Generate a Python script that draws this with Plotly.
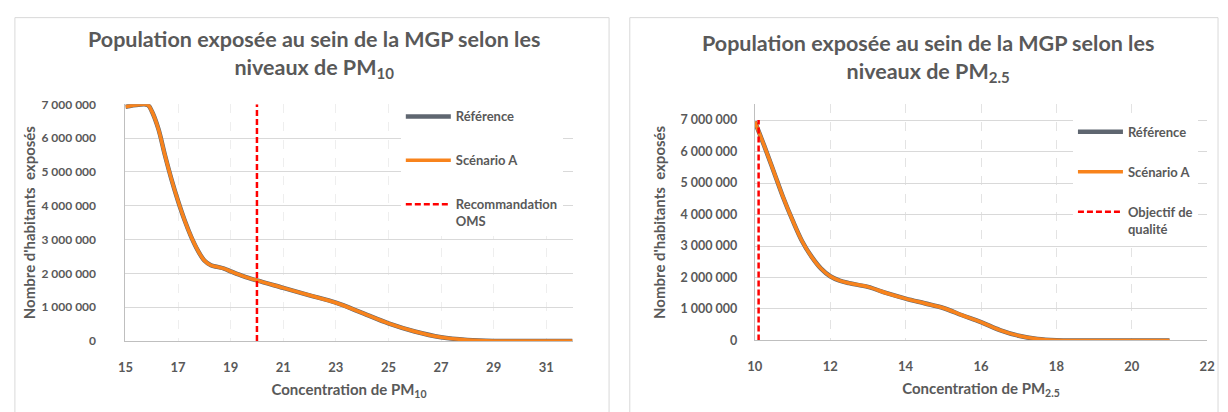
import plotly.graph_objects as go

# PM10 exposure curve (µg/m³ -> inhabitants exposed)
pm10_conc = [15, 15.5, 15.85, 16, 16.25, 16.5, 16.75, 17, 17.25, 17.5, 17.75, 18,
             18.25, 18.5, 18.75, 19, 19.5, 20, 21, 22, 23, 24, 25, 26, 27, 28,
             29, 30, 31, 32]
pm10_reference = [6930000, 6990000, 6980000, 6800000, 6280000, 5500000, 4780000,
                  4140000, 3570000, 3080000, 2680000, 2380000, 2240000, 2190000,
                  2140000, 2060000, 1910000, 1790000, 1570000, 1350000, 1130000,
                  830000, 520000, 280000, 110000, 30000, 0, 0, 0, 0]
pm10_scenario_a = list(pm10_reference)
pm10_oms = 20

# PM2.5 exposure curve
pm25_conc = [10, 10.25, 10.5, 10.75, 11, 11.25, 11.5, 11.75, 12, 12.25, 12.5, 13,
             13.5, 14, 14.5, 15, 15.5, 16, 16.5, 17, 17.5, 18, 18.5, 19, 20, 21]
pm25_reference = [6950000, 6180000, 5370000, 4550000, 3820000, 3160000, 2670000,
                  2290000, 2040000, 1900000, 1820000, 1700000, 1500000, 1330000,
                  1180000, 1030000, 800000, 580000, 330000, 150000, 50000, 10000,
                  0, 0, 0, 0]
pm25_scenario_a = list(pm25_reference)
pm25_objectif = 10.1

W, H = 1228, 412
GREY_LINE = "#5F6670"
ORANGE = "#F8831C"
RED = "#FF0000"
TEXT = "#595959"
FONT = "Lato"


def fx(x):
    return x / W


def fy(y):
    return 1 - y / H


fig = go.Figure()

# left chart traces
fig.add_trace(go.Scatter(x=pm10_conc, y=pm10_reference, name="Référence",
                         mode="lines", line=dict(color=GREY_LINE, width=4.5, shape="spline"),
                         legendgroup="a1", xaxis="x", yaxis="y"))
fig.add_trace(go.Scatter(x=pm10_conc, y=pm10_scenario_a, name="Scénario A",
                         mode="lines", line=dict(color=ORANGE, width=3.5, shape="spline"),
                         legendgroup="a2", xaxis="x", yaxis="y"))
fig.add_trace(go.Scatter(x=[pm10_oms, pm10_oms], y=[0, 7000000], name="Recommandation<br>OMS",
                         mode="lines", line=dict(color=RED, width=2.5, dash="6px,3px"),
                         legendgroup="a3", xaxis="x", yaxis="y"))

# right chart traces
fig.add_trace(go.Scatter(x=pm25_conc, y=pm25_reference, name="Référence",
                         mode="lines", line=dict(color=GREY_LINE, width=4.5, shape="spline"),
                         legendgroup="b1", legend="legend2", xaxis="x2", yaxis="y2"))
fig.add_trace(go.Scatter(x=pm25_conc, y=pm25_scenario_a, name="Scénario A",
                         mode="lines", line=dict(color=ORANGE, width=3.5, shape="spline"),
                         legendgroup="b2", legend="legend2", xaxis="x2", yaxis="y2"))
fig.add_trace(go.Scatter(x=[pm25_objectif, pm25_objectif], y=[0, 7000000],
                         name="Objectif de<br>qualité",
                         mode="lines", line=dict(color=RED, width=2.5, dash="6px,3px"),
                         legendgroup="b3", legend="legend2", xaxis="x2", yaxis="y2"))


def tick_font(size):
    return dict(family=FONT, size=size, color=TEXT, weight="bold")


axis_title_font = dict(family=FONT, size=15, color=TEXT, weight="bold")

common_x = dict(showline=True, linecolor="#BFBFBF", linewidth=1, ticks="",
                zeroline=False, tickfont=tick_font(13), griddash="dash", gridwidth=1)
common_y = dict(showline=True, linecolor="#BFBFBF", linewidth=1, ticks="",
                zeroline=False, gridcolor="#D9D9D9", gridwidth=1,
                tickformat=",d", dtick=1000000, tick0=0)

legend_common = dict(bgcolor="white", font=dict(family=FONT, size=13, color=TEXT, weight="bold"),
                     traceorder="grouped", valign="top", xanchor="left", yanchor="top",
                     itemwidth=45)

fig.update_layout(
    width=W, height=H,
    margin=dict(l=0, r=0, t=0, b=0),
    paper_bgcolor="white", plot_bgcolor="white",
    separators=", ",
    font=dict(family=FONT, color=TEXT),
    xaxis=dict(common_x, domain=[fx(119), fx(572)], range=[15, 32], tick0=15, dtick=2,
               gridcolor="#EEEEEE", ticklabelstandoff=14,
               title=dict(text="Concentration de PM<sub>10</sub>", font=axis_title_font,
                          standoff=10)),
    yaxis=dict(common_y, domain=[fy(345.5), fy(100)], range=[0, 7000000],
               ticklabelstandoff=26, tickfont=tick_font(12),
               title=dict(text="Nombre d'habitants  exposés", font=axis_title_font,
                          standoff=2)),
    xaxis2=dict(common_x, domain=[fx(756.7), fx(1215)], range=[10, 22], tick0=10, dtick=2,
                gridcolor="#E3E3E3", ticklabelstandoff=14,
                title=dict(text="Concentration de PM<sub>2.5</sub>", font=axis_title_font,
                           standoff=10)),
    yaxis2=dict(common_y, domain=[fy(345), fy(100)], range=[0, 7500000],
                ticklabelstandoff=14, anchor="x2", tickfont=tick_font(12.5),
                title=dict(text="Nombre d'habitants  exposés", font=axis_title_font,
                           standoff=11)),
    legend=dict(legend_common, x=fx(398), y=fy(97), tracegroupgap=24),
    legend2=dict(legend_common, x=fx(1079), y=fy(113), tracegroupgap=20),
)
fig.update_layout(xaxis2=dict(anchor="y2"))

# chart frames
for x0, x1 in [(7, 609), (630, 1226)]:
    fig.add_shape(type="rect", xref="paper", yref="paper",
                  x0=fx(x0), x1=fx(x1), y0=fy(430), y1=fy(10),
                  line=dict(color="#D9D9D9", width=1), fillcolor="rgba(0,0,0,0)",
                  layer="below")

title_font = dict(family=FONT, size=21.5, color=TEXT, weight="bold")
fig.add_annotation(text="Population exposée au sein de la MGP selon les<br>niveaux de PM<sub>10</sub>",
                   xref="paper", yref="paper", x=fx(310), y=fy(17), xanchor="center",
                   yanchor="top", showarrow=False, font=title_font, align="center")
fig.add_annotation(text="Population exposée au sein de la MGP selon les<br>niveaux de PM<sub>2.5</sub>",
                   xref="paper", yref="paper", x=fx(932), y=fy(21), xanchor="center",
                   yanchor="top", showarrow=False, font=title_font, align="center")

fig.write_html("out.html")
